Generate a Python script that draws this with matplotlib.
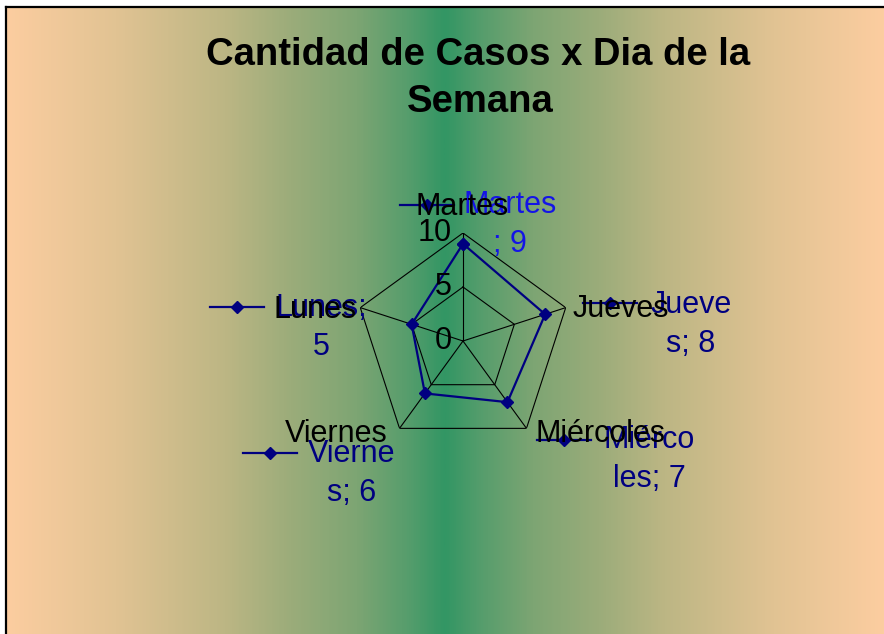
import numpy as np
import matplotlib
matplotlib.use("Agg")
import matplotlib.pyplot as plt
from matplotlib.colors import LinearSegmentedColormap
from matplotlib.lines import Line2D

plt.rcParams['font.family'] = ['Liberation Sans', 'DejaVu Sans']

# ---- data ----
title = "Cantidad de Casos x Dia de la\nSemana"
categories = ["Martes", "Jueves", "Miércoles", "Viernes", "Lunes"]
values = [9, 8, 7, 6, 5]
r_ticks = [0, 5, 10]
r_max = 10
data_labels = ["Martes\n; 9", "Jueve\ns; 8", "Miérco\nles; 7", "Vierne\ns; 6", "Lunes;\n5"]

# ---- layout (pixels, origin top-left) ----
W, H = 884, 634
def fx(x): return x / W
def fy(y): return 1 - y / H

cx, cy, R = 463, 341, 108
navy = "#000080"

fig = plt.figure(figsize=(W / 100, H / 100), dpi=100, facecolor="white")

# background gradient panel
bg = fig.add_axes([fx(6), 0, (W - 6) / W, (H - 7) / H])
bg.set_axis_off()
stops = [(0.0, (51/255, 150/255, 100/255)),
         (0.08, (85/255, 157/255, 108/255)),
         (0.2, (125/255, 165/255, 115/255)),
         (0.35, (155/255, 172/255, 122/255)),
         (0.5, (188/255, 182/255, 132/255)),
         (0.75, (225/255, 195/255, 147/255)),
         (1.0, (252/255, 205/255, 160/255))]
cmap = LinearSegmentedColormap.from_list("bg", stops)
xs = np.linspace(6, W, 900)
t = np.abs(xs - 445) / 439
bg.imshow(t[None, :], cmap=cmap, aspect="auto", extent=[0, 1, 0, 1], vmin=0, vmax=1)
bg.set_xlim(0, 1); bg.set_ylim(0, 1)
# frame lines (top and left)
fig.add_artist(Line2D([fx(6), fx(6)], [0, fy(7)], color="black", lw=1.6))
fig.add_artist(Line2D([fx(6), 1], [fy(7), fy(7)], color="black", lw=1.6))

# title
t1, t2 = title.split("\n")
fig.text(fx(478), fy(65), t1, ha="center", va="baseline",
         fontsize=27.5, fontweight="bold", color="black")
fig.text(fx(480), fy(112), t2, ha="center", va="baseline",
         fontsize=27.5, fontweight="bold", color="black")

# radar axes
ax = fig.add_axes([fx(cx - R), fy(cy + R), 2 * R / W, 2 * R / H], projection="polar")
ax.set_facecolor("none")
ax.set_theta_zero_location("N")
ax.set_theta_direction(-1)
ax.set_ylim(0, r_max)
ax.grid(False)
ax.spines["polar"].set_visible(False)
ax.set_xticks([]); ax.set_yticks([])

n = len(categories)
angles = np.arange(n) * 2 * np.pi / n
closed = np.concatenate([angles, angles[:1]])
for rt in r_ticks[1:]:
    ax.plot(closed, [rt] * (n + 1), color="black", lw=0.8, zorder=2)
for a in angles:
    ax.plot([a, a], [0, r_max], color="black", lw=0.8, zorder=2)
vals = list(values) + [values[0]]
ax.plot(closed, vals, color=navy, lw=1.6, marker="D", markersize=6.5, zorder=3)

# radial tick labels
for rt in r_ticks:
    ypx = cy - R * rt / r_max
    fig.text(fx(452), fy(ypx), str(rt), ha="right", va="center", fontsize=22, color="black")

# data labels: (text center x, first baseline, key diamond x, key y, color)
lab_pos = [(510, 213, 427, 205, "#1414E6"),
           (691, 313, 610, 303, navy),
           (649, 448, 564, 440, navy),
           (352, 462, 270, 453, navy),
           (321, 316, 237, 307, navy)]
for txt, (x, y, kx, ky, col) in zip(data_labels, lab_pos):
    for i, line in enumerate(txt.split("\n")):
        fig.text(fx(x), fy(y + 39 * i), line, ha="center", va="baseline",
                 fontsize=22, color=col, zorder=4)
    fig.add_artist(Line2D([fx(kx - 27), fx(kx + 27)], [fy(ky), fy(ky)], color=navy, lw=1.6, zorder=5))
    fig.add_artist(Line2D([fx(kx)], [fy(ky)], color=navy, marker="D", markersize=6.5, zorder=5))

# category labels (x, baseline, ha) drawn on top
cat_pos = [(462, 215, "center"), (573, 317, "left"), (535, 442, "left"),
           (388, 442, "right"), (357, 318, "right")]
for name, (x, y, ha) in zip(categories, cat_pos):
    fig.text(fx(x), fy(y), name, ha=ha, va="baseline", fontsize=22, color="black", zorder=10)

fig.savefig("out.png", dpi=100, facecolor="white")
